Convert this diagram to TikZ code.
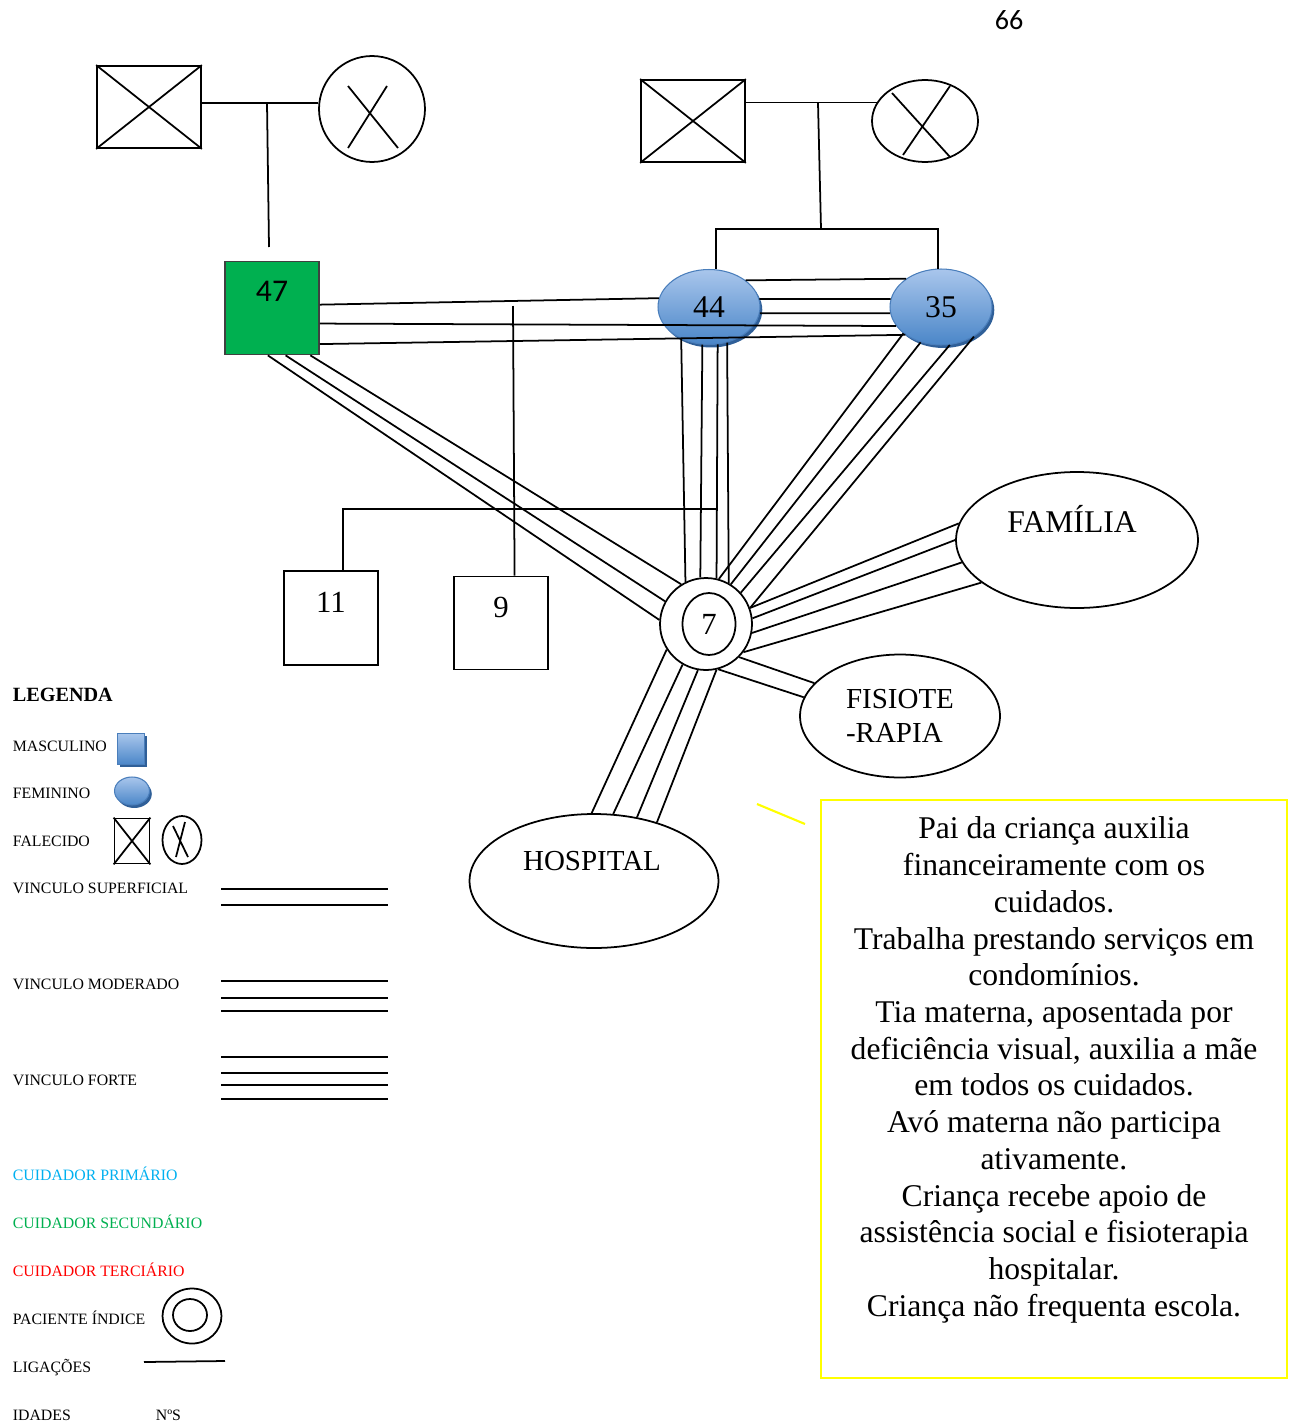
\documentclass[tikz,border=0pt]{standalone}
\usepackage{fontspec}
\setmainfont{Liberation Serif}
\newfontfamily\calibri{Carlito}
\definecolor{BlueTop}{HTML}{A9C6EC}
\definecolor{BlueBottom}{HTML}{4A86C8}
\definecolor{BlueEdge}{HTML}{4A7EBB}
\definecolor{BlueShadow}{HTML}{2F5F98}
\definecolor{GreenCarer}{HTML}{00B050}
\definecolor{CyanCarer}{HTML}{00B0F0}
\definecolor{RedCarer}{HTML}{FF0000}
\definecolor{NoteYellow}{HTML}{FFFF00}
\usetikzlibrary{
  positioning,
  shapes.geometric,
  shadows,
  calc
}

\begin{document}
\begin{tikzpicture}[
  x=0.02cm, y=-0.02cm,
  line width=1pt,
  dead/.style={draw, inner sep=0pt},
  blueshade/.style={
    draw=BlueEdge, line width=0.6pt, inner sep=0pt,
    top color=BlueTop, bottom color=BlueBottom,
    drop shadow={shadow xshift=1.3pt, shadow yshift=-1.7pt,
      fill=BlueShadow, opacity=1}
  },
  living/.style={
    blueshade, ellipse,
    font=\fontsize{18}{20}\selectfont
  },
  childbox/.style={
    rectangle, draw, inner sep=0pt,
    minimum width=1.88cm, minimum height=1.88cm
  },
  place/.style={ellipse, draw, inner sep=0pt},
  bignum/.style={font=\fontsize{17.5}{20}\selectfont},
  legtext/.style={
    anchor=base west, inner sep=0pt,
    font=\fontsize{9}{11}\selectfont
  },
  legline/.style={line width=1.1pt}
]
  \useasboundingbox (0,0) rectangle (1294,1423);

  % Page number
  \node[font=\calibri\fontsize{16}{18}\selectfont] (page) at (1009,20) {66};

  % Paternal grandparents (deceased)
  \node[dead, rectangle, minimum width=2.08cm,
    minimum height=1.64cm] (gpM1) at (149,107) {};
  \node[dead, circle, minimum size=2.12cm] (gpF1) at (372,109) {};
  \draw (gpM1.north west) -- (gpM1.south east)
        (gpM1.north east) -- (gpM1.south west);
  \draw ($(gpF1)+(-24,-23)$) -- ($(gpF1)+(26,39)$)
        ($(gpF1)+(15,-23)$) -- ($(gpF1)+(-24,39)$);
  \coordinate (m1) at (267,103);
  \coordinate (d47) at (269,247);
  \draw (gpM1.east |- m1) -- (gpF1.west |- m1);
  \draw (m1) -- (d47);

  % Maternal grandparents (deceased)
  \node[dead, rectangle, minimum width=2.08cm,
    minimum height=1.64cm] (gpM2) at (693,121) {};
  \node[dead, ellipse, minimum width=2.12cm,
    minimum height=1.64cm] (gpF2) at (925,121) {};
  \draw (gpM2.north west) -- (gpM2.south east)
        (gpM2.north east) -- (gpM2.south west);
  \draw ($(gpF2)+(-33,-28)$) -- ($(gpF2)+(25,36)$)
        ($(gpF2)+(25,-35)$) -- ($(gpF2)+(-22,34)$);
  \coordinate (m2) at (818,103);
  \coordinate (sib2) at (821,229);
  \draw (gpM2.east |- gpF2.159) -- (gpF2.159);
  \draw (m2) -- (sib2);

  % Parents and aunt
  \node[rectangle, draw=black!75, fill=GreenCarer, inner sep=0pt,
    minimum width=1.88cm, minimum height=1.86cm] (p47) at (272,308) {};
  \node[font=\calibri\fontsize{18}{20}\selectfont] (t47) at (272,291) {47};
  \node[living, minimum width=2.04cm, minimum height=1.5cm]
    (p44) at (709,307) {44};
  \node[living, minimum width=2.04cm, minimum height=1.52cm]
    (p35) at (941,307) {35};
  \draw (p44.80) |- (sib2) -| (p35.95);

  % Children
  \node[childbox] (p11) at (331,618) {};
  \node[bignum] (t11) at (331,602) {11};
  \node[childbox, minimum height=1.86cm] (p9) at (501,623) {};
  \node[bignum] (t9) at (501,607) {9};
  \node[circle, draw, fill=white, inner sep=0pt,
    minimum size=1.84cm] (p7) at (706,624) {};
  \node[ellipse, draw, inner sep=0pt, minimum width=1.06cm,
    minimum height=1.24cm, bignum] (p7in) at (709,624) {7};
  \coordinate (sib1) at (717,509);
  \draw (p11.76) |- (sib1);
  \coordinate (c9) at (513,306);
  \draw (c9) -- (p9.74);

  % Outside resources
  \node[place, minimum width=4.84cm, minimum height=2.72cm]
    (fam) at (1077,540) {};
  \node[font=\fontsize{18}{20}\selectfont] (tfam) at (1072,519) {FAMÍLIA};
  \node[place, minimum width=4cm, minimum height=2.46cm, align=left,
    font=\fontsize{16.5}{19.3}\selectfont] (fisio) at (900,716)
    {FISIOTE\\-RAPIA};
  \node[place, minimum width=4.98cm, minimum height=2.68cm]
    (hosp) at (594,881) {};
  \node[font=\fontsize{16.5}{19}\selectfont] (thosp) at (592,861) {HOSPITAL};

  % Bonds between family members
  \draw (p47.4) -- (p44.170)
        (p47.342) -- (p35.203)
        (p47.323) -- (p35.218);
  \draw (p44.36) -- (p35.141)
        (p44.9) -- (p35.171)
        (p44.353) -- (p35.187);
  \draw (p47.265) -- (p7.175)
        (p47.286) -- (p7.151)
        (p47.309) -- (p7.122);
  \draw (p44.229) -- (p7.116)
        (p44.260) -- (p7.97)
        (p44.283) -- (p7.77)
        (p44.297) -- (p7.61);
  \draw (p35.215) -- (p7.74)
        (p35.240) -- (p7.58)
        (p35.283) -- (p7.42)
        (p35.318) -- (p7.20);

  % Bonds with resources
  \draw (fam.172) -- (p7.20)
        (fam.180) -- (p7.7)
        (fam.191) -- (p7.349)
        (fam.204) -- (p7.323);
  \draw (fisio.159) -- (p7.315)
        (fisio.169) -- (p7.285);
  \draw (hosp.92) -- (p7.213)
        (hosp.74) -- (p7.240)
        (hosp.56) -- (p7.260)
        (hosp.43) -- (p7.283);

  % Note box
  \coordinate (y1) at (757,804);
  \coordinate (y2) at (805,824);
  \draw[NoteYellow, line width=1.2pt] (y1) -- (y2);
  \node[draw=NoteYellow, line width=1.4pt, inner sep=0pt,
    minimum width=9.32cm, minimum height=11.56cm] (nota) at (1054,1089) {};
  \node[align=center, font=\fontsize{18}{20.9}\selectfont]
    (tnota) at (1054,1070)
    {Pai da criança auxilia\\
     financeiramente com os\\
     cuidados.\\
     Trabalha prestando serviços em\\
     condomínios.\\
     Tia materna, aposentada por\\
     deficiência visual, auxilia a mãe\\
     em todos os cuidados.\\
     Avó materna não participa\\
     ativamente.\\
     Criança recebe apoio de\\
     assistência social e fisioterapia\\
     hospitalar.\\
     Criança não frequenta escola.};

  % Legend
  \node[legtext, font=\bfseries\fontsize{11.5}{13}\selectfont]
    (legT) at (12,701) {LEGENDA};
  \node[legtext] (legMt) at (12,751) {MASCULINO};
  \node[blueshade, rectangle, minimum width=0.54cm,
    minimum height=0.62cm] (legM) at (131,749) {};
  \node[legtext] (legFt) at (12,798) {FEMININO};
  \node[blueshade, ellipse, minimum width=0.7cm,
    minimum height=0.56cm] (legF) at (132,791) {};
  \node[legtext] (legDt) at (12,846) {FALECIDO};
  \node[dead, rectangle, minimum width=0.7cm,
    minimum height=0.9cm] (legDM) at (132,841) {};
  \draw (legDM.north west) -- (legDM.south east)
        (legDM.north east) -- (legDM.south west);
  \node[dead, ellipse, minimum width=0.78cm,
    minimum height=0.96cm] (legDF) at (182,840) {};
  \draw ($(legDF)+(-9,-14)$) -- ($(legDF)+(6,17)$)
        ($(legDF)+(3,-18)$) -- ($(legDF)+(-6,17)$);

  \node[legtext] (legS) at (12,893) {VINCULO SUPERFICIAL};
  \draw[legline] (221,889) -- (388,889)
                 (221,905) -- (388,905);
  \node[legtext] (legMo) at (12,989) {VINCULO MODERADO};
  \draw[legline] (221,981) -- (388,981)
                 (221,998) -- (388,998)
                 (221,1011) -- (388,1011);
  \node[legtext] (legFo) at (12,1085) {VINCULO FORTE};
  \draw[legline] (221,1057) -- (388,1057)
                 (221,1073) -- (388,1073)
                 (221,1085) -- (388,1085)
                 (221,1099) -- (388,1099);

  \node[legtext, text=CyanCarer] (legC1) at (12,1180) {CUIDADOR PRIMÁRIO};
  \node[legtext, text=GreenCarer] (legC2) at (12,1228) {CUIDADOR SECUNDÁRIO};
  \node[legtext, text=RedCarer] (legC3) at (12,1276) {CUIDADOR TERCIÁRIO};
  \node[legtext] (legP) at (12,1324) {PACIENTE ÍNDICE};
  \node[dead, ellipse, minimum width=1.18cm,
    minimum height=1.1cm] (legPo) at (192,1316) {};
  \node[dead, ellipse, minimum width=0.68cm,
    minimum height=0.64cm] (legPi) at (190,1315) {};
  \node[legtext] (legL) at (12,1372) {LIGAÇÕES};
  \coordinate (l1) at (144,1362);
  \coordinate (l2) at (225,1361);
  \draw (l1) -- (l2);
  \node[legtext] (legI) at (12,1420) {IDADES};
  \node[legtext] (legN) at (155,1420) {NºS};
\end{tikzpicture}
\end{document}
